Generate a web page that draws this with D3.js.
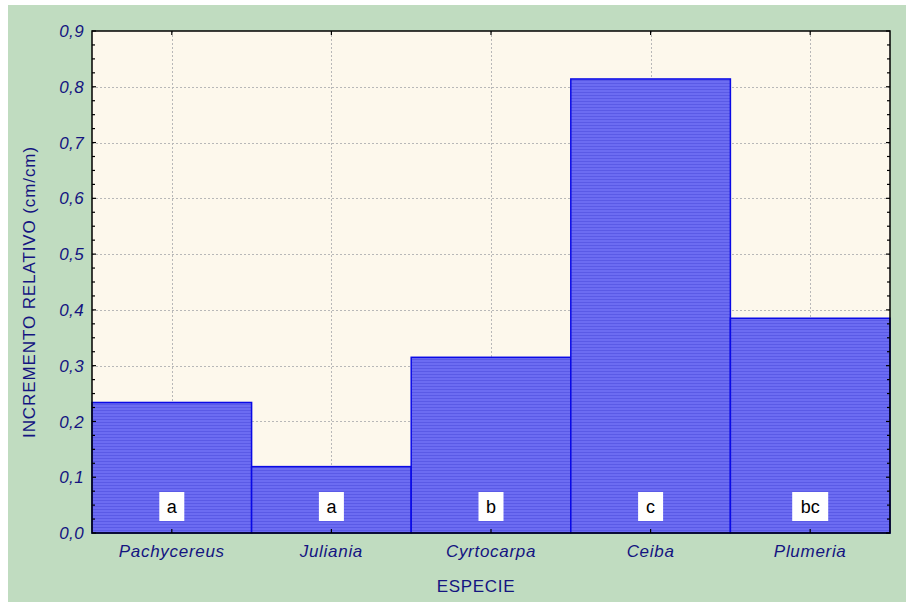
<!DOCTYPE html>
<html>
<head>
<meta charset="utf-8">
<script src="https://cdn.jsdelivr.net/npm/d3@7/dist/d3.min.js"></script>
<style>
  html, body { margin: 0; padding: 0; background: #ffffff; }
  svg { display: block; }
</style>
</head>
<body>
<svg id="chart" width="906" height="602"></svg>
<script>
// Relative growth by species, with significance-group letters
const species = ["Pachycereus", "Juliania", "Cyrtocarpa", "Ceiba", "Plumeria"];
const increments = [0.234, 0.119, 0.315, 0.814, 0.385];
const groups = ["a", "a", "b", "c", "bc"];
const yTicks = [0, 0.1, 0.2, 0.3, 0.4, 0.5, 0.6, 0.7, 0.8, 0.9];

const W = 906, H = 602;
const plot = { left: 92, top: 31, right: 890, bottom: 533 };

const svg = d3.select("#chart");
const navy = "#141480";
const font = "Arial, 'Liberation Sans', sans-serif";

// Outer panel
svg.append("rect").attr("x", 8).attr("y", 5).attr("width", W - 8).attr("height", H - 5)
  .attr("fill", "#c0dcc0");

const x = d3.scaleBand().domain(species).range([plot.left, plot.right]).padding(0);
const y = d3.scaleLinear().domain([0, 0.9]).range([plot.bottom, plot.top]);

// Plot background
svg.append("rect")
  .attr("x", plot.left).attr("y", plot.top)
  .attr("width", plot.right - plot.left).attr("height", plot.bottom - plot.top)
  .attr("fill", "#fdf8ec");

// Striped bar fill
const defs = svg.append("defs");
const pat = defs.append("pattern").attr("id", "stripes")
  .attr("patternUnits", "userSpaceOnUse").attr("width", 8).attr("height", 3);
pat.append("rect").attr("width", 8).attr("height", 3).attr("fill", "#6c6cf2");
pat.append("rect").attr("y", 2).attr("width", 8).attr("height", 1).attr("fill", "#5a5ae6");

// Grid lines
const grid = svg.append("g");
grid.selectAll("line.h").data(yTicks.filter(d => d > 0 && d < 0.9)).join("line")
  .attr("x1", plot.left).attr("x2", plot.right)
  .attr("y1", d => Math.round(y(d)) + 0.5).attr("y2", d => Math.round(y(d)) + 0.5)
  .attr("stroke", "#b8b8b8").attr("stroke-width", 1).attr("stroke-dasharray", "2,2");
grid.selectAll("line.v").data(species).join("line")
  .attr("x1", d => Math.round(x(d) + x.bandwidth() / 2) + 0.5)
  .attr("x2", d => Math.round(x(d) + x.bandwidth() / 2) + 0.5)
  .attr("y1", plot.top).attr("y2", plot.bottom)
  .attr("stroke", "#b8b8b8").attr("stroke-width", 1).attr("stroke-dasharray", "2,2");

// Bars
svg.append("g").selectAll("rect").data(species).join("rect")
  .attr("x", d => x(d))
  .attr("y", (d, i) => y(increments[i]))
  .attr("width", x.bandwidth())
  .attr("height", (d, i) => plot.bottom - y(increments[i]))
  .attr("fill", "url(#stripes)")
  .attr("stroke", "#0a0ae6").attr("stroke-width", 1.5);

// Group letters in white boxes
const lab = svg.append("g").selectAll("g").data(species).join("g")
  .attr("transform", d => `translate(${x(d) + x.bandwidth() / 2},507)`);
lab.append("rect")
  .attr("x", (d, i) => groups[i].length > 1 ? -18 : -12.5)
  .attr("y", -15)
  .attr("width", (d, i) => groups[i].length > 1 ? 36 : 25)
  .attr("height", 29)
  .attr("fill", "#ffffff");
lab.append("text")
  .attr("text-anchor", "middle").attr("dy", "0.36em")
  .attr("font-family", font)
  .attr("font-size", 18).attr("fill", "#000000")
  .text((d, i) => groups[i]);

// Axes with inward ticks
const minor = d3.range(0, 0.9001, 0.025);
const axisG = svg.append("g");

axisG.selectAll("line.lt").data(minor).join("line")
  .attr("x1", plot.left).attr("x2", (d, i) => plot.left + (i % 4 === 0 ? 4 : 3))
  .attr("y1", d => y(d)).attr("y2", d => y(d))
  .attr("stroke", "#000").attr("stroke-width", 1.2);
axisG.selectAll("line.rt").data(minor).join("line")
  .attr("x1", plot.right).attr("x2", (d, i) => plot.right - (i % 4 === 0 ? 4 : 3))
  .attr("y1", d => y(d)).attr("y2", d => y(d))
  .attr("stroke", "#000").attr("stroke-width", 1.2);
axisG.selectAll("line.bt").data(species).join("line")
  .attr("x1", d => x(d) + x.bandwidth() / 2).attr("x2", d => x(d) + x.bandwidth() / 2)
  .attr("y1", plot.bottom).attr("y2", plot.bottom - 4)
  .attr("stroke", "#000").attr("stroke-width", 1.2);
axisG.selectAll("line.tt").data(species).join("line")
  .attr("x1", d => x(d) + x.bandwidth() / 2).attr("x2", d => x(d) + x.bandwidth() / 2)
  .attr("y1", plot.top).attr("y2", plot.top + 4)
  .attr("stroke", "#000").attr("stroke-width", 1.2);

// Frame
svg.append("rect")
  .attr("x", plot.left).attr("y", plot.top)
  .attr("width", plot.right - plot.left).attr("height", plot.bottom - plot.top)
  .attr("fill", "none").attr("stroke", "#000").attr("stroke-width", 1.5);

// Y tick labels
const fmt = d => d3.format(".1f")(d).replace(".", ",");
svg.append("g").selectAll("text").data(yTicks).join("text")
  .attr("x", plot.left - 8).attr("y", d => y(d)).attr("dy", "0.36em")
  .attr("text-anchor", "end")
  .attr("font-family", font).attr("font-style", "italic").attr("font-size", 17)
  .attr("letter-spacing", 0.4)
  .attr("fill", navy).text(fmt);

// X category labels
svg.append("g").selectAll("text").data(species).join("text")
  .attr("x", d => x(d) + x.bandwidth() / 2).attr("y", plot.bottom + 24)
  .attr("text-anchor", "middle")
  .attr("font-family", font).attr("font-style", "italic").attr("font-size", 17)
  .attr("letter-spacing", 0.7)
  .attr("fill", navy).text(d => d);

// Axis titles
svg.append("text")
  .attr("x", 476).attr("y", 592)
  .attr("text-anchor", "middle")
  .attr("font-family", font).attr("font-size", 17).attr("letter-spacing", 0.7)
  .attr("fill", navy)
  .text("ESPECIE");
svg.append("text")
  .attr("transform", `translate(35,292) rotate(-90)`)
  .attr("text-anchor", "middle")
  .attr("font-family", font).attr("font-size", 17).attr("letter-spacing", 0.9)
  .attr("fill", navy)
  .text("INCREMENTO RELATIVO (cm/cm)");
</script>
</body>
</html>
